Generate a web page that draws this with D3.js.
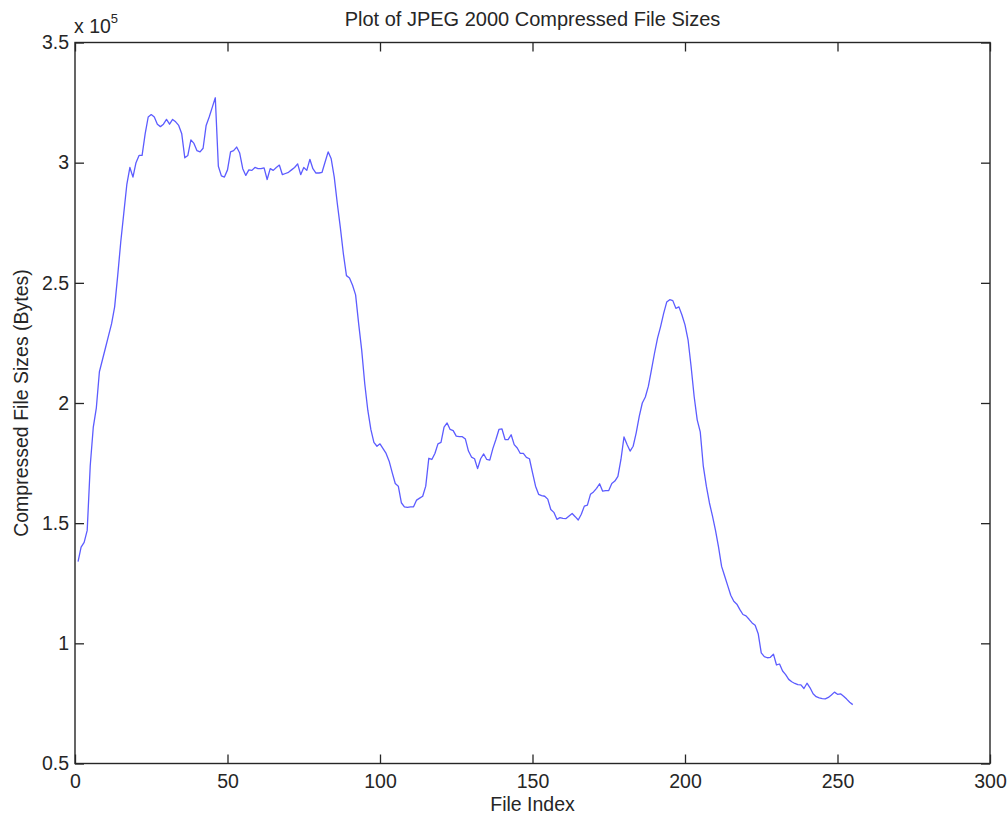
<!DOCTYPE html>
<html>
<head>
<meta charset="utf-8">
<script src="https://cdn.jsdelivr.net/npm/d3@7"></script>
<style>
  html, body { margin: 0; padding: 0; background: #fff; }
  svg text { font-family: "Liberation Sans", Arial, Helvetica, sans-serif; fill: #262626; }
</style>
</head>
<body>
<div id="wrapper"></div>
<script>
// File sizes in bytes, one per file (file index starts at 1)
const fileSizes = [
  134000, 140000, 142000, 147000, 174000, 190000, 198000, 213000, 218000, 223000,
  228000, 233000, 240000, 253000, 267000, 279000, 291000, 298000, 294000, 300000,
  303000, 303000, 312000, 319000, 320000, 319000, 316000, 315000, 316000, 318000,
  316000, 318000, 317000, 315500, 312000, 302000, 303000, 309500, 308000, 305000,
  304500, 306000, 315500, 319000, 323000, 327000, 298500, 294500, 294000, 297000,
  304500, 305000, 306500, 304000, 297500, 294700, 297000, 296800, 298000, 297500,
  297500, 297800, 293000, 297500, 296800, 298000, 299000, 295000, 295500, 296000,
  297000, 298000, 299500, 295000, 298000, 296800, 301400, 297500, 295700, 295700,
  296000, 300300, 304500, 301600, 294000, 283000, 273000, 262000, 253000, 252000,
  249000, 245000, 233000, 222000, 208000, 197000, 189000, 183600, 182000, 183000,
  181000, 179000, 175800, 171000, 166500, 165400, 158500, 156800, 156600, 156800,
  156800, 159600, 160400, 161200, 165400, 177000, 176500, 179000, 183000, 183600,
  190000, 191700, 189000, 188500, 186200, 186000, 186000, 185000, 180000, 177500,
  176800, 172700, 176800, 178800, 176500, 176200, 181000, 184800, 189000, 189200,
  184800, 184800, 186800, 182700, 181300, 179000, 179000, 177400, 176800, 171000,
  165400, 162000, 161500, 161200, 160000, 155700, 154500, 151600, 152300, 152000,
  151900, 153000, 154000, 152700, 151300, 153700, 157100, 157500, 162000, 163000,
  164500, 166400, 163300, 163500, 163600, 166500, 167500, 169500, 176500, 185900,
  182700, 180000, 182000, 187600, 194400, 200000, 202500, 207000, 213800, 220700,
  227000, 231800, 237300, 242000, 243000, 242600, 239400, 240000, 236600, 232500,
  226300, 215200, 202700, 193000, 188000, 173700, 165400, 158500, 153000, 147000,
  140000, 132000, 128000, 124000, 120000, 117500, 116300, 114000, 112000, 111400,
  110000, 108500, 107500, 104000, 96000, 94500, 94000, 94200, 95500, 91000,
  91400, 88500, 87000, 85000, 84000, 83300, 82800, 82700, 81200, 83400,
  81500, 79000, 77800, 77300, 77000, 76900, 77500, 78500, 79700, 78800,
  79000, 78000, 76800, 75500, 74500
];

const xTicks = [0, 50, 100, 150, 200, 250, 300];
const yTicks = [50000, 100000, 150000, 200000, 250000, 300000, 350000];
const yTickLabels = ["0.5", "1", "1.5", "2", "2.5", "3", "3.5"];

const titleText = "Plot of JPEG 2000 Compressed File Sizes";
const xLabelText = "File Index";
const yLabelText = "Compressed File Sizes (Bytes)";

// chart size and margins
let dimensions = {
  width: 1008,
  height: 816,
  margin: { top: 42.5, right: 18, bottom: 52.5, left: 75 },
};
dimensions.boundedWidth = dimensions.width - dimensions.margin.left - dimensions.margin.right;
dimensions.boundedHeight = dimensions.height - dimensions.margin.top - dimensions.margin.bottom;

const dataset = fileSizes.map((v, i) => ({ index: i + 1, size: v }));
const xAccessor = (d) => d.index;
const yAccessor = (d) => d.size;

const wrapper = d3.select("#wrapper")
  .append("svg")
  .attr("width", dimensions.width)
  .attr("height", dimensions.height);

const bounds = wrapper.append("g")
  .attr("transform", `translate(${dimensions.margin.left},${dimensions.margin.top})`);

const xScale = d3.scaleLinear()
  .domain([0, 300])
  .range([0, dimensions.boundedWidth]);

const yScale = d3.scaleLinear()
  .domain([50000, 350000])
  .range([dimensions.boundedHeight, 0]);

const axisColor = "#262626";
const tickLen = 9;

// bottom axis with labels, ticks pointing in
const xAxisGenerator = d3.axisBottom(xScale)
  .tickValues(xTicks)
  .tickSize(-tickLen)
  .tickSizeOuter(0)
  .tickPadding(11);
const xAxis = bounds.append("g")
  .attr("transform", `translate(0,${dimensions.boundedHeight})`)
  .call(xAxisGenerator);

// left axis with labels
const yAxisGenerator = d3.axisLeft(yScale)
  .tickValues(yTicks)
  .tickFormat((d, i) => yTickLabels[i])
  .tickSize(-tickLen)
  .tickSizeOuter(0)
  .tickPadding(6);
const yAxis = bounds.append("g").call(yAxisGenerator);

// top and right ticks, no labels
const xAxisTop = bounds.append("g")
  .call(d3.axisTop(xScale).tickValues(xTicks).tickSize(-tickLen).tickSizeOuter(0).tickFormat(""));
const yAxisRight = bounds.append("g")
  .attr("transform", `translate(${dimensions.boundedWidth},0)`)
  .call(d3.axisRight(yScale).tickValues(yTicks).tickSize(-tickLen).tickSizeOuter(0).tickFormat(""));

[xAxis, yAxis, xAxisTop, yAxisRight].forEach((g) => {
  g.select(".domain").remove();
  g.selectAll(".tick line").attr("stroke", axisColor).attr("stroke-width", 1.3);
  g.selectAll(".tick text")
    .style("font-size", "19.5px")
    .style("font-family", '"Liberation Sans", Arial, sans-serif')
    .attr("fill", axisColor);
});

// box around the plot
bounds.append("rect")
  .attr("x", 0)
  .attr("y", 0)
  .attr("width", dimensions.boundedWidth)
  .attr("height", dimensions.boundedHeight)
  .attr("fill", "none")
  .attr("stroke", axisColor)
  .attr("stroke-width", 1.4);

// the data line
const lineGenerator = d3.line()
  .x((d) => xScale(xAccessor(d)))
  .y((d) => yScale(yAccessor(d)));

bounds.append("path")
  .attr("d", lineGenerator(dataset))
  .attr("fill", "none")
  .attr("stroke", "#5c5cff")
  .attr("stroke-width", 1.3)
  .attr("stroke-linejoin", "round");

// title
wrapper.append("text")
  .attr("x", dimensions.margin.left + dimensions.boundedWidth / 2)
  .attr("y", 26)
  .attr("text-anchor", "middle")
  .style("font-size", "20px")
  .text(titleText);

// x axis label
wrapper.append("text")
  .attr("x", dimensions.margin.left + dimensions.boundedWidth / 2)
  .attr("y", 811)
  .attr("text-anchor", "middle")
  .style("font-size", "19.5px")
  .text(xLabelText);

// y axis label
wrapper.append("text")
  .attr("transform", `translate(28,${dimensions.margin.top + dimensions.boundedHeight / 2}) rotate(-90)`)
  .attr("text-anchor", "middle")
  .style("font-size", "19.5px")
  .text(yLabelText);

// exponent label above the y axis
const expLabel = wrapper.append("text")
  .attr("x", 74)
  .attr("y", 33)
  .style("font-size", "19.5px");
expLabel.append("tspan").text("x 10");
expLabel.append("tspan")
  .attr("dy", -10)
  .style("font-size", "13px")
  .text("5");
</script>
</body>
</html>
